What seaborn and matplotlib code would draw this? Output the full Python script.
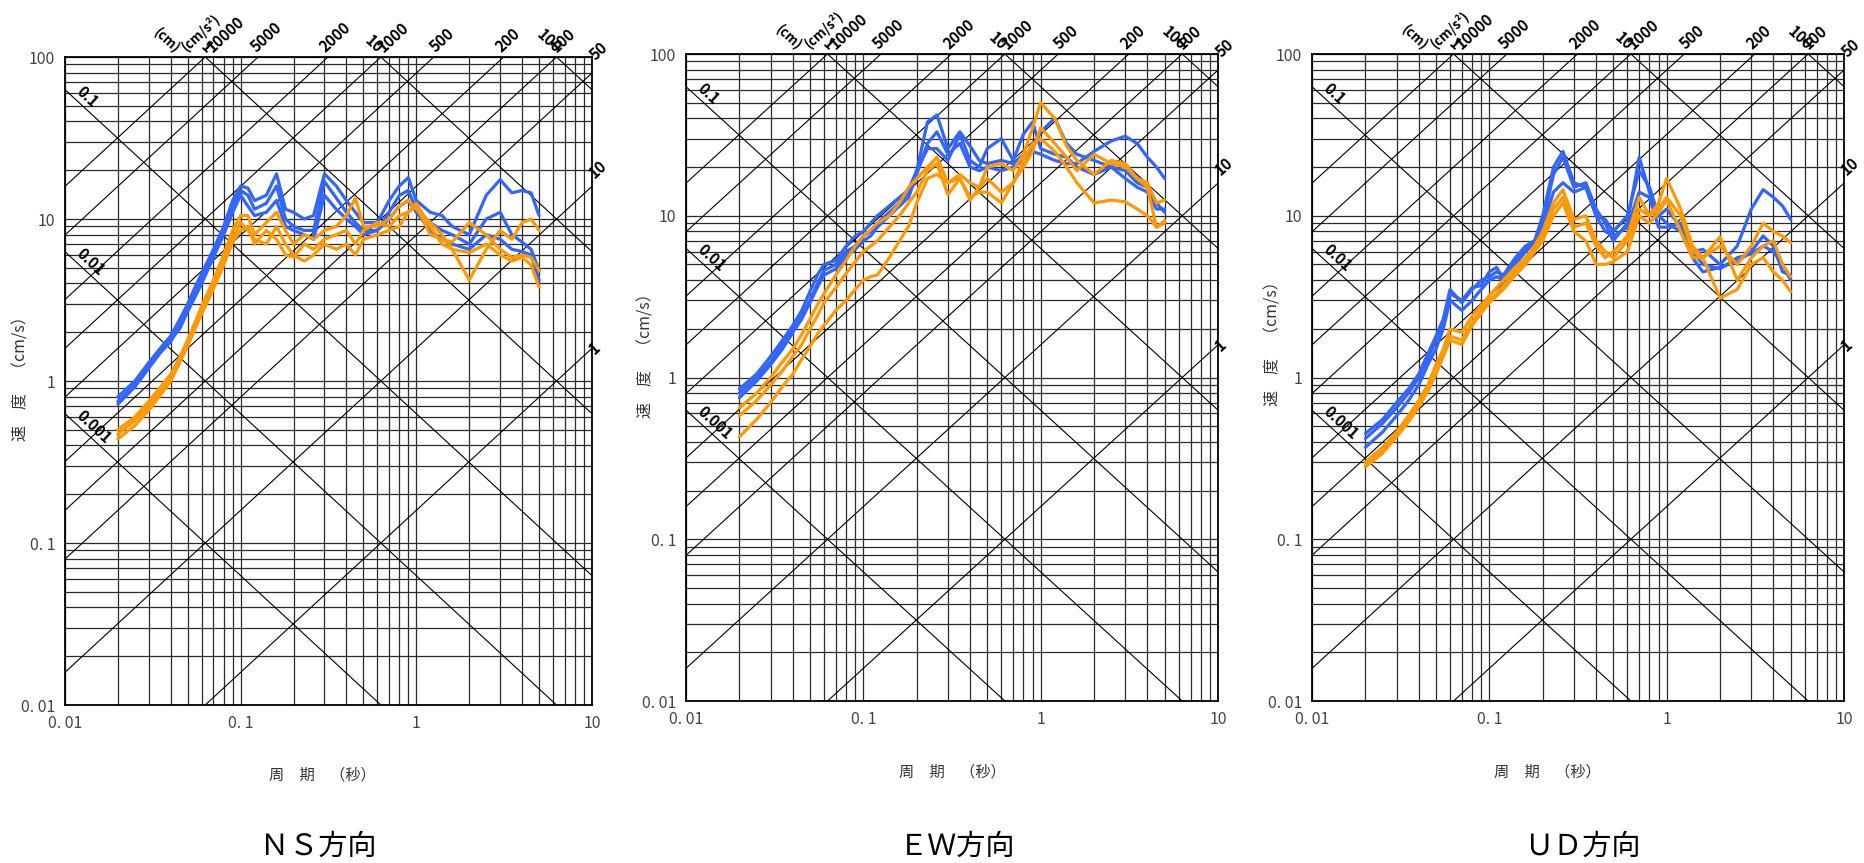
import numpy as np
import pandas as pd
import matplotlib
matplotlib.use("Agg")
import matplotlib.pyplot as plt
from matplotlib.ticker import LogLocator, NullFormatter, FixedLocator, FixedFormatter
import seaborn as sns

sns.set_theme(style="white")
plt.rcParams['font.family'] = ['Noto Sans CJK JP', 'DejaVu Sans']

# ---------------- data ----------------
periods = [0.02, 0.025, 0.03, 0.035, 0.04, 0.045, 0.05, 0.055, 0.06, 0.07, 0.08, 0.09, 0.1,
           0.11, 0.12, 0.14, 0.16, 0.18, 0.2, 0.23, 0.26, 0.3, 0.35, 0.4, 0.45, 0.5,
           0.6, 0.7, 0.8, 0.9, 1.0, 1.2, 1.4, 1.6, 2.0, 2.5, 3.0, 3.5, 4.0, 4.5, 5.0]

ns_blue_1 = [0.80, 1.0, 1.3, 1.6, 1.9, 2.4, 3.0, 3.8, 4.6, 6.5, 9.0, 13, 16, 15.5, 13, 14, 19, 11.5, 11, 10, 10.5, 19, 16, 13, 11, 9.5, 9.5, 13, 16, 18, 13, 11, 10.5, 9, 8, 14, 17.5, 14.5, 15, 14.5, 10.5]
ns_blue_2 = [0.72, 0.92, 1.2, 1.5, 1.75, 2.2, 2.8, 3.5, 4.3, 6.0, 8.5, 12, 15, 14, 11.5, 12.5, 16, 10, 9, 8.5, 8.5, 17, 13.5, 11, 9.5, 8.5, 8.5, 11, 14, 15, 11.5, 9.5, 8.5, 8, 7, 10, 11, 8, 7.2, 6.5, 4.8]
ns_blue_3 = [0.75, 0.95, 1.25, 1.55, 1.8, 2.1, 2.7, 3.3, 4.0, 5.8, 8.0, 11, 14, 12, 10.5, 11, 13, 9, 8.5, 8, 7.5, 14, 11.5, 10, 9, 8, 8.5, 10, 12, 13, 11, 8.5, 7.5, 7, 6.5, 8, 7.5, 6.5, 6.3, 6.0, 4.2]
ns_orange_1 = [0.50, 0.6, 0.75, 0.92, 1.1, 1.4, 1.8, 2.3, 2.9, 4.2, 6.0, 8.5, 10.5, 10.5, 8, 9.5, 11, 8.5, 7, 8, 7.5, 8.5, 9, 10.5, 13.5, 9, 9, 10, 12, 13, 11.5, 9.5, 8, 6.5, 4.2, 6.5, 8.5, 7.5, 9.5, 10, 8.5]
ns_orange_2 = [0.44, 0.53, 0.66, 0.82, 1.0, 1.3, 1.65, 2.1, 2.6, 3.7, 5.2, 7.2, 8.5, 9, 7, 8.5, 7.5, 6, 5.8, 7, 6.5, 7.5, 8, 8.5, 7, 8.5, 9.5, 9, 10.5, 11, 12, 8, 7.5, 7.2, 9.5, 8, 6.5, 5.8, 6, 5.8, 4.8]
ns_orange_3 = [0.47, 0.57, 0.7, 0.86, 1.05, 1.35, 1.7, 2.2, 2.7, 3.9, 5.5, 7.6, 9.5, 8.5, 7.5, 7, 9, 7, 6, 5.5, 6, 7, 6.5, 7, 6, 7.5, 8, 8.5, 9, 11, 12.5, 9, 7, 6.5, 6.2, 7, 6, 5.5, 5.8, 5.2, 3.8]

ew_blue_1 = [0.85, 1.05, 1.35, 1.7, 2.1, 2.6, 3.4, 4.3, 5.0, 5.3, 6.5, 7.5, 8.0, 9.0, 10, 11.5, 13, 14.5, 19, 38, 42, 26, 33, 27, 22, 21, 22, 21, 24, 25, 24, 22, 21, 21, 25, 29, 31, 28, 23, 20, 17]
ew_blue_2 = [0.80, 1.0, 1.25, 1.6, 2.0, 2.4, 3.0, 3.8, 4.6, 5.0, 6.0, 6.5, 7.5, 8, 9, 10.5, 12, 14, 19, 26, 26, 22, 32, 22, 20, 26, 30, 22, 32, 38, 26, 24, 23, 20, 18, 20, 17, 15, 14, 11, 11]
ew_blue_3 = [0.75, 0.95, 1.2, 1.5, 1.9, 2.3, 2.9, 3.6, 4.3, 4.7, 5.6, 6.2, 7, 7.5, 8.5, 10, 11.5, 13, 18, 28, 33, 24, 28, 20, 19, 20, 19, 20, 22, 26, 33, 40, 28, 24, 22, 20, 19, 16, 15, 12, 10.5]
ew_orange_1 = [0.65, 0.8, 1.0, 1.25, 1.5, 1.85, 2.3, 2.8, 3.3, 4.3, 5.3, 6.5, 7.5, 8.2, 9, 10, 12, 15, 17, 20, 23, 16, 18, 16, 15, 20, 21, 19, 24, 35, 50, 40, 27, 22, 18, 22, 21, 17, 16, 12, 12.5]
ew_orange_2 = [0.58, 0.72, 0.9, 1.1, 1.35, 1.6, 2.0, 2.4, 2.9, 3.6, 4.4, 5.2, 6.0, 6.5, 7.0, 8.5, 10, 12, 14, 19, 21, 13.5, 17, 12.5, 15, 17, 14, 16, 20, 25, 35, 28, 23, 19, 24, 21, 20, 17, 15, 8.5, 9.3]
ew_orange_3 = [0.43, 0.55, 0.7, 0.88, 1.05, 1.3, 1.55, 1.85, 2.1, 2.6, 3.0, 3.5, 4.0, 4.2, 4.3, 5.5, 7.0, 8.6, 12, 17, 18, 16, 17, 13, 14, 14, 12, 16, 22, 28, 30, 25, 20, 16, 12, 12.5, 12.2, 11, 10, 8.5, 9]

ud_blue_1 = [0.45, 0.55, 0.7, 0.85, 1.05, 1.4, 1.8, 2.3, 3.5, 2.9, 3.5, 4.0, 4.2, 4.5, 4.3, 5.5, 6.5, 7.0, 10, 20, 25, 16, 15, 10, 9.5, 8, 10, 19, 15, 10, 11, 8.5, 6, 6.2, 5.0, 6.5, 11, 14.5, 13, 11.5, 9.5]
ud_blue_2 = [0.42, 0.52, 0.65, 0.8, 1.0, 1.3, 1.7, 2.2, 3.3, 3.0, 3.6, 3.7, 4.5, 4.8, 4.0, 5.2, 6.3, 7.0, 9, 18, 23, 15, 16, 11, 9, 7, 9, 23, 14, 10, 9, 8, 5.5, 4.5, 4.8, 5.2, 6.0, 7.5, 6.5, 4.5, 4.3]
ud_blue_3 = [0.37, 0.46, 0.58, 0.72, 0.9, 1.2, 1.5, 2.0, 3.0, 2.6, 3.0, 3.5, 4.0, 4.2, 4.0, 5.0, 6.0, 6.8, 8.5, 14, 16, 14, 15, 10, 8, 7.5, 8.5, 14, 13, 8.5, 8.5, 9, 6, 5, 4.7, 5.5, 5.8, 6.5, 6.0, 5, 4]
ud_orange_1 = [0.30, 0.37, 0.46, 0.58, 0.72, 0.9, 1.2, 1.5, 2.0, 1.9, 2.4, 2.8, 3.2, 3.6, 4.0, 4.8, 5.5, 6.5, 8, 12, 14.5, 9.5, 10, 7, 6, 5.5, 7, 11, 10, 12, 17, 11, 6.5, 5.5, 6.5, 5, 6.5, 9.0, 8, 7.5, 6.8]
ud_orange_2 = [0.285, 0.35, 0.44, 0.55, 0.68, 0.85, 1.1, 1.4, 1.8, 1.7, 2.2, 2.6, 3.0, 3.3, 3.7, 4.5, 5.2, 6.2, 7.5, 11, 13, 8.5, 9, 6.5, 5.5, 6, 7.5, 13, 10, 11, 13, 10, 6, 5.5, 7.4, 4, 5.5, 6.5, 7, 5, 4.2]
ud_orange_3 = [0.28, 0.34, 0.43, 0.53, 0.66, 0.82, 1.05, 1.35, 1.7, 1.6, 2.1, 2.5, 2.9, 3.2, 3.5, 4.3, 5.0, 6.0, 7, 10, 12, 8, 7, 5, 5, 5.2, 6, 10, 9, 10.5, 12.5, 8, 5.5, 5.5, 3.1, 3.5, 5, 5.5, 4.5, 4, 3.4]

panel_titles = ["ＮＳ方向", "ＥＷ方向", "ＵＤ方向"]
x_tick_values = [0.01, 0.1, 1, 10]
x_tick_labels = ["0. 01", "0. 1", "1", "10"]
y_tick_values = [0.01, 0.1, 1, 10, 100]
y_tick_labels = ["0. 01", "0. 1", "1", "10", "100"]
x_label = "周　期　（秒）"
y_label = "速　度　（cm/s）"

disp_values = [0.001, 0.01, 0.1, 1, 10, 100]          # cm
acc_values = [1, 10, 50, 100, 200, 500, 1000, 2000, 5000, 10000]  # cm/s^2

BLUE = "#3366FF"
ORANGE = "#FF9900"

W, H = 1865, 863
fig = plt.figure(figsize=(W / 100, H / 100), dpi=100)
fig.patch.set_facecolor("white")

axes_px = [(65, 57, 592, 705), (686, 54, 1218, 701), (1312, 54, 1844, 701)]
ylabel_px = [(21, 375), (646, 352), (1273, 340)]
xlabel_px = [(322, 775), (952, 772), (1547, 772)]
title_px = [(318, 847), (957, 847), (1582, 847)]

panel_data = [
    [ns_blue_1, ns_blue_2, ns_blue_3, ns_orange_1, ns_orange_2, ns_orange_3],
    [ew_blue_1, ew_blue_2, ew_blue_3, ew_orange_1, ew_orange_2, ew_orange_3],
    [ud_blue_1, ud_blue_2, ud_blue_3, ud_orange_1, ud_orange_2, ud_orange_3],
]
series_names = ["b1", "b2", "b3", "o1", "o2", "o3"]
palette = {"b1": BLUE, "b2": BLUE, "b3": BLUE, "o1": ORANGE, "o2": ORANGE, "o3": ORANGE}

TWO_PI = 2 * np.pi
line_kw = dict(color="black", lw=0.8, zorder=1.5)
txt_kw = dict(fontweight="bold", color="black", rotation_mode="anchor",
              family=["Noto Sans CJK JP", "DejaVu Sans"], clip_on=False, zorder=5)

for i in range(3):
    l, t, r, b = axes_px[i]
    ax = fig.add_axes([l / W, 1 - b / H, (r - l) / W, (b - t) / H])
    ax.set_xscale("log")
    ax.set_yscale("log")
    ax.set_xlim(0.01, 10)
    ax.set_ylim(0.01, 100)
    ax.set_facecolor("white")

    # grid
    ax.xaxis.set_minor_locator(LogLocator(base=10, subs=np.arange(2, 10), numticks=100))
    ax.yaxis.set_minor_locator(LogLocator(base=10, subs=np.arange(2, 10), numticks=100))
    ax.xaxis.set_minor_formatter(NullFormatter())
    ax.yaxis.set_minor_formatter(NullFormatter())
    ax.grid(True, which="both", color="#2a2a2a", lw=0.9)
    ax.set_axisbelow(True)

    # tripartite diagonals
    tt = np.array([0.001, 100.0])
    for d in disp_values:
        ax.plot(tt, TWO_PI * d / tt, **line_kw)
    for a in acc_values:
        ax.plot(tt, a * tt / TWO_PI, **line_kw)

    # spectra
    rows = []
    for name, vals in zip(series_names, panel_data[i]):
        for p, v in zip(periods, vals):
            rows.append({"period": p, "velocity": v, "series": name})
    df = pd.DataFrame(rows)
    sns.lineplot(data=df, x="period", y="velocity", hue="series", palette=palette,
                 estimator=None, sort=False, legend=False, lw=2.3, ax=ax, zorder=3)

    ax.set_xlim(0.01, 10)
    ax.set_ylim(0.01, 100)
    ax.xaxis.set_major_locator(FixedLocator(x_tick_values))
    ax.xaxis.set_major_formatter(FixedFormatter(x_tick_labels))
    ax.yaxis.set_major_locator(FixedLocator(y_tick_values))
    ax.yaxis.set_major_formatter(FixedFormatter(y_tick_labels))
    ax.tick_params(which="both", length=0, labelsize=11.5, labelcolor="#444444", pad=7)
    ax.set_xlabel("")
    ax.set_ylabel("")
    for s in ax.spines.values():
        s.set_visible(True)
        s.set_color("black")
        s.set_linewidth(1.3)

    # label angle of diagonals on screen
    dec_w = (r - l) / 3.0
    dec_h = (b - t) / 4.0
    ang = np.degrees(np.arctan(dec_h / dec_w))

    # displacement labels at left
    for d, lab in zip([0.1, 0.01, 0.001], ["0.1", "0.01", "0.001"]):
        tl = 0.0112
        ax.text(tl, TWO_PI * d / tl * 1.04, lab, rotation=-ang, ha="left", va="bottom",
                fontsize=11, **txt_kw)
    # displacement labels at top
    for d, tfac in zip([1, 10, 100], [0.99, 0.93, 0.955]):
        tc = TWO_PI * d / 100.0
        ax.text(tc * tfac, 101, str(d), rotation=-ang, ha="right", va="bottom",
                fontsize=11, **txt_kw)
    ax.text(0.041, 101, "(cm)", rotation=-ang, ha="right", va="bottom", fontsize=9.5, **txt_kw)
    ax.text(0.051, 104, "(cm/s²)", rotation=ang, ha="left", va="bottom", fontsize=9.5, **txt_kw)
    # acceleration labels at top
    for a, tfac in zip([10000, 5000, 2000, 1000, 500, 200, 100], [1.14, 1.0, 1.0, 1.06, 1.05, 1.0, 1.03]):
        tc = TWO_PI * 100.0 / a
        ax.text(tc * tfac, 103, str(a), rotation=ang, ha="left", va="bottom",
                fontsize=11, **txt_kw)
    # acceleration labels at right
    for a, yv in zip([50, 10, 1], [92, 17.0, 1.4]):
        ax.text(10.7, yv, str(a), rotation=ang, ha="left", va="bottom", fontsize=11, **txt_kw)

    fig.text(ylabel_px[i][0] / W, 1 - ylabel_px[i][1] / H, y_label, rotation=90,
             ha="center", va="center", fontsize=11.5, color="#333333")
    fig.text(xlabel_px[i][0] / W, 1 - xlabel_px[i][1] / H, x_label,
             ha="center", va="center", fontsize=11, color="#333333")
    fig.text(title_px[i][0] / W, 1 - title_px[i][1] / H, panel_titles[i],
             ha="center", va="center", fontsize=21, color="black")

fig.savefig("out.png", dpi=100, facecolor="white")
